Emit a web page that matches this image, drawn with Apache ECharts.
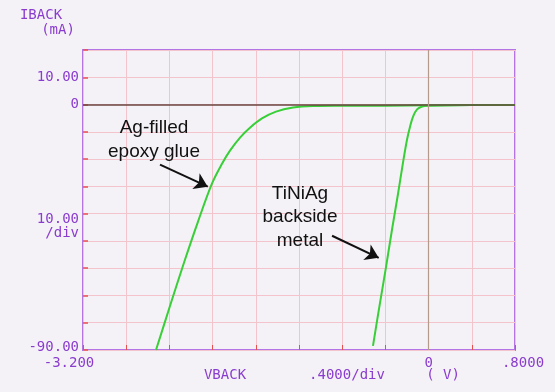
<!DOCTYPE html>
<html>
<head>
<meta charset="utf-8">
<script src="https://cdn.jsdelivr.net/npm/echarts@6/dist/echarts.min.js"></script>
<style>
html,body{margin:0;padding:0;background:#f4f2f6;}
#chart{width:555px;height:392px;}
</style>
</head>
<body>
<div id="chart"></div>
<script>
// Ag-filled epoxy glue curve (V, mA)
const agVoltage = [-2.524, -2.394, -2.265, -2.135, -2.006, -1.913, -1.839, -1.746, -1.654, -1.543, -1.413, -1.256, -1.070, -0.8, -0.4, 0, 0.4, 0.8];
const agCurrent = [-90, -73.8, -58.0, -42.9, -29.0, -21.7, -16.9, -12.1, -8.5, -5.1, -2.6, -1.1, -0.55, -0.45, -0.4, -0.3, -0.2, -0.2];
// TiNiAg backside metal curve (V, mA)
const tiVoltage = [-0.515, -0.45, -0.394, -0.339, -0.283, -0.237, -0.2, -0.172, -0.144, -0.107, -0.061, -0.005, 0.4, 0.8];
const tiCurrent = [-88.5, -72.7, -59.5, -45.9, -32.7, -21.3, -12.9, -8.1, -4.4, -1.8, -0.7, -0.4, -0.2, -0.2];
// tick labels
const yLabelValues = [10, 0, -40, -90];
const yLabelTexts = ['10.00', '0', '10.00\n/div', '-90.00'];
const xLabelValues = [-3.2, 0, 0.8];
const xLabelTexts = ['-3.200', '0', '.8000'];
// annotations
const agLabel = 'Ag-filled\nepoxy glue';
const tiLabel = 'TiNiAg\nbackside\nmetal';
const agArrow = [[-2.487, -22.0], [-2.045, -30.1]];
const tiArrow = [[-0.894, -48.1], [-0.462, -56.2]];

const purple = '#8a3ccf';
const plotFont = 'DejaVu Sans Mono';

function findLabel(vals, texts, v) {
  for (let i = 0; i < vals.length; i++) if (Math.abs(vals[i] - v) < 1e-6) return texts[i];
  return null;
}

const chart = echarts.init(document.getElementById('chart'));
chart.setOption({
  backgroundColor: '#f4f2f6',
  animation: false,
  grid: { left: 83, right: 40, top: 50, bottom: 42, show: true, borderColor: '#b474e6', borderWidth: 2, backgroundColor: 'transparent' },
  xAxis: {
    type: 'value', min: -3.2, max: 0.8, interval: 0.4,
    axisLine: { show: false, onZero: false },
    axisTick: { show: true, inside: true, length: 5, lineStyle: { color: '#e85050', width: 1 } },
    splitLine: { show: true, lineStyle: { color: '#f4c4cc', width: 1 } },
    axisLabel: {
      show: true, margin: 6, showMinLabel: true, showMaxLabel: true,
      fontFamily: plotFont, fontSize: 14, color: purple,
      formatter: function (v) {
        const t = findLabel(xLabelValues, xLabelTexts, v);
        if (t === null) return '';
        if (Math.abs(v + 3.2) < 1e-6) return '{l|' + t + '}';
        if (Math.abs(v - 0.8) < 1e-6) return '{r|' + t + '}';
        return '{c|' + t + '}';
      },
      rich: {
        l: { fontFamily: plotFont, fontSize: 14, color: purple, padding: [0, 28, 0, 0] },
        r: { fontFamily: plotFont, fontSize: 14, color: purple, padding: [0, 0, 0, 16] },
        c: { fontFamily: plotFont, fontSize: 14, color: purple }
      }
    }
  },
  yAxis: {
    type: 'value', min: -90, max: 20, interval: 10,
    axisLine: { show: false, onZero: false },
    axisTick: { show: true, inside: true, length: 5, lineStyle: { color: '#e85050', width: 1.5 } },
    splitLine: { show: true, lineStyle: { color: '#f4c4cc', width: 1 } },
    axisLabel: {
      show: true, margin: 4, showMinLabel: true, showMaxLabel: true,
      fontFamily: plotFont, fontSize: 14, color: purple,
      formatter: function (v) {
        const t = findLabel(yLabelValues, yLabelTexts, v);
        if (t === null) return '';
        if (Math.abs(v + 40) < 1e-6) return '{d|' + t.split('\n')[0] + '}\n{e|' + t.split('\n')[1] + '}';
        if (Math.abs(v + 90) < 1e-6) return '{m|' + t + '}';
        return '{c|' + t + '}';
      },
      rich: {
        c: { fontFamily: plotFont, fontSize: 14, color: purple, align: 'right' },
        m: { fontFamily: plotFont, fontSize: 14, color: purple, align: 'right', padding: [0, 0, 6, 0] },
        d: { fontFamily: plotFont, fontSize: 14, color: purple, align: 'right', padding: [26, 0, 0, 0] },
        e: { fontFamily: plotFont, fontSize: 14, color: purple, align: 'right' }
      }
    }
  },
  series: [
    {
      type: 'line', data: [], z: 1, silent: true,
      markLine: {
        silent: true, symbol: ['none', 'none'], label: { show: false },
        data: [
          { yAxis: 0, lineStyle: { color: '#6a4640', width: 1.5, type: 'solid' } },
          { xAxis: 0, lineStyle: { color: '#b49a8a', width: 1.2, type: 'solid' } }
        ]
      }
    },
    {
      type: 'line', name: 'Ag-filled epoxy glue', z: 3,
      data: agVoltage.map((v, i) => [v, agCurrent[i]]),
      smooth: 0.35, symbol: 'none',
      lineStyle: { color: '#38cf38', width: 2 },
      markLine: {
        silent: true, symbol: ['none', 'arrow'], symbolSize: 13, label: { show: false },
        lineStyle: { color: '#111111', width: 2, type: 'solid' },
        data: [
          [{ coord: agArrow[0] }, { coord: agArrow[1] }],
          [{ coord: tiArrow[0] }, { coord: tiArrow[1] }]
        ]
      }
    },
    {
      type: 'line', name: 'TiNiAg backside metal', z: 3,
      data: tiVoltage.map((v, i) => [v, tiCurrent[i]]),
      smooth: 0.35, symbol: 'none',
      lineStyle: { color: '#38cf38', width: 2 }
    }
  ],
  graphic: [
    { type: 'text', x: 154, y: 140, z: 10, style: { text: agLabel, textAlign: 'center', textVerticalAlign: 'middle', font: '19px "Liberation Sans", Arial, sans-serif', lineHeight: 24, fill: '#111111' } },
    { type: 'text', x: 300, y: 217, z: 10, style: { text: tiLabel, textAlign: 'center', textVerticalAlign: 'middle', font: '19px "Liberation Sans", Arial, sans-serif', lineHeight: 23.5, fill: '#111111' } },
    { type: 'text', x: 41, y: 15, style: { text: 'IBACK', textAlign: 'center', textVerticalAlign: 'middle', font: '14px "DejaVu Sans Mono"', fill: purple } },
    { type: 'text', x: 58, y: 30, style: { text: '(mA)', textAlign: 'center', textVerticalAlign: 'middle', font: '14px "DejaVu Sans Mono"', fill: purple } },
    { type: 'text', x: 225, y: 375, style: { text: 'VBACK', textAlign: 'center', textVerticalAlign: 'middle', font: '14px "DejaVu Sans Mono"', fill: purple } },
    { type: 'text', x: 347, y: 375, style: { text: '.4000/div', textAlign: 'center', textVerticalAlign: 'middle', font: '14px "DejaVu Sans Mono"', fill: purple } },
    { type: 'text', x: 443, y: 375, style: { text: '( V)', textAlign: 'center', textVerticalAlign: 'middle', font: '14px "DejaVu Sans Mono"', fill: purple } }
  ]
});
</script>
</body>
</html>
